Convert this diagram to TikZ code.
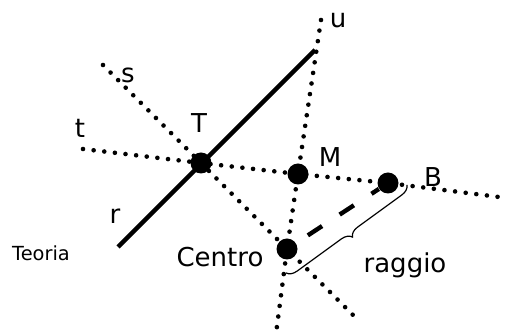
\documentclass[tikz,border=0pt]{standalone}
\usepackage{fontspec}
\setmainfont{DejaVu Sans}
\usetikzlibrary{decorations.pathreplacing}

\tikzset{
  punteggiata/.style={line width=2.3pt, line cap=round, dash pattern=on 0pt off 5.35pt},
  tratteggiata/.style={line width=2.2pt, dash pattern=on 8.5pt off 10.5pt, dash phase=12pt},
  punto/.style={circle, fill=black, inner sep=0pt, minimum size=10.5pt},
  etichetta/.style={font=\fontsize{13}{15}\selectfont, inner sep=0pt}
}

\begin{document}
\begin{tikzpicture}[x=0.5pt, y=-0.5pt]
  \useasboundingbox (0,0) rectangle (510,336);
  % punti
  \node[punto] (T) at (201,163) {};
  \node[punto] (M) at (298,174) {};
  \node[punto] (B) at (388,183) {};
  \node[punto] (C) at (287,249) {};
  % estremi delle rette
  \coordinate (s1) at (103,65);
  \coordinate (s2) at (353,315);
  \coordinate (t1) at (83,149);
  \coordinate (t2) at (507,198);
  \coordinate (u1) at (321,20);
  \coordinate (u2) at (276,334);
  \coordinate (r1) at (118,247);
  \coordinate (r2) at (315,50);
  \coordinate (g1) at (407,185);
  \coordinate (g2) at (286,273);
  % rette
  \draw[line width=2.2pt] (r1) -- (r2);
  \draw[punteggiata] (s1) -- (T.center) -- (C.center) -- (s2);
  \draw[punteggiata] (t1) -- (T.center) -- (M.center) -- (B.center) -- (t2);
  \draw[punteggiata] (u1) -- (M.center) -- (C.center) -- (u2);
  \draw[tratteggiata] (C) -- (B);
  \draw[line width=0.6pt, decorate, decoration={brace, amplitude=5pt}] (g1) -- (g2);
  % etichette
  \node[etichetta] (lu) at (338,20) {u};
  \node[etichetta] (ls) at (128,75) {s};
  \node[etichetta] (lt) at (80,128) {t};
  \node[etichetta] (lT) at (199,123) {T};
  \node[etichetta] (lM) at (330,157) {M};
  \node[etichetta] (lB) at (433,177) {B};
  \node[etichetta] (lr) at (115,216) {r};
  \node[etichetta] (lC) at (220,257) {Centro};
  \node[etichetta] (lg) at (405,265) {raggio};
  \node[font=\fontsize{9.7}{12}\selectfont, inner sep=0pt] (teo) at (41,253) {Teoria};
\end{tikzpicture}
\end{document}
